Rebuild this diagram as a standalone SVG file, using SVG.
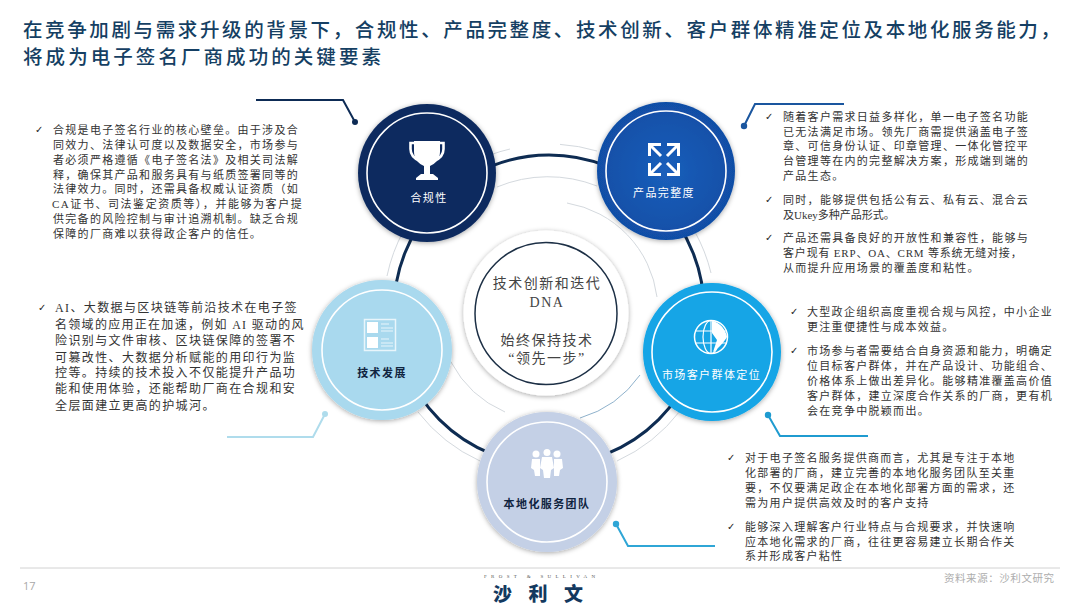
<svg xmlns="http://www.w3.org/2000/svg" width="1080" height="608" viewBox="0 0 1080 608">
<style>
text{font-family:"Liberation Serif","Noto Sans CJK SC",sans-serif}
.title{font-family:"Noto Sans CJK SC",sans-serif;font-size:19.5px;font-weight:500;fill:#153f63}
.b{font-size:11px;letter-spacing:1.3px;fill:#333}
.b2{font-size:12px;letter-spacing:1.4px;fill:#333}
.ck{font-family:"DejaVu Sans",sans-serif;font-size:10px;fill:#222}
.nl{font-size:11px;letter-spacing:1.4px;text-anchor:middle;fill:#fff}
.nd{font-size:11px;letter-spacing:1.4px;text-anchor:middle;fill:#10243f;font-weight:700}
.ct{font-size:14px;letter-spacing:1.5px;text-anchor:middle;fill:#444}
.thin{fill:none;stroke:#d4d9de;stroke-width:1}
.ring{fill:none;stroke:#fff;stroke-width:1.6}
.ico{fill:#fff;stroke:none}
.icl{fill:none;stroke:#fff;stroke-linecap:butt}
.lead{fill:none;stroke-width:2}
</style>
<defs>
<filter id="sh" x="-20%" y="-20%" width="140%" height="140%"><feDropShadow dx="0" dy="1" stdDeviation="2.5" flood-color="#000" flood-opacity=".35"/></filter>
<radialGradient id="gp"><stop offset="0" stop-color="#1b5fbb"/><stop offset="1" stop-color="#114ea6"/></radialGradient>
</defs>
<rect width="1080" height="608" fill="#fff"/>
<g id="title">
<text class="title" x="23" y="37" textLength="1037">在竞争加剧与需求升级的背景下，合规性、产品完整度、技术创新、客户群体精准定位及本地化服务能力，</text>
<text class="title" x="23" y="64" textLength="358">将成为电子签名厂商成功的关键要素</text>
</g>
<g id="connectors">
<circle cx="549" cy="310" r="155" fill="none" stroke="#0e2c52" stroke-width="3"/>
<path class="thin" d="M490,155A166,166 0 0 1 510,149"/>
<path class="thin" d="M560,144.4A166,166 0 0 1 597,151"/>
<path class="thin" d="M695,232A166,166 0 0 1 711,273"/>
<path class="thin" d="M387,276A166,166 0 0 1 404,230"/>
<path class="thin" d="M418,412A166,166 0 0 0 480,461"/>
<path class="thin" d="M617,461A166,166 0 0 0 680,411"/>
<path class="thin" d="M497,187A133,133 0 0 1 597,186"/>
<path class="thin" d="M567,203A109,109 0 0 1 657,297"/>
<path class="thin" d="M451,362A111,111 0 0 0 505,412"/>
<path d="M580,418A112,112 0 0 0 640,375" fill="none" stroke="#8fb2cc" stroke-width="1"/>
<path class="lead" stroke="#0d2b55" d="M256,100H343L355,122"/><circle cx="355" cy="122" r="3" fill="#0d2b55"/>
<path class="lead" stroke="#1a569f" d="M844,104H755L744,126"/><circle cx="744" cy="126" r="3.2" fill="#1a569f"/>
<path class="lead" stroke="#1f9bd0" d="M768,415L780,436H868"/><circle cx="768" cy="415" r="3.2" fill="#1f9bd0"/>
<path class="lead" stroke="#2fa6d6" d="M616,524L628,546H715"/><circle cx="616" cy="524" r="3.2" fill="#2fa6d6"/>
<path class="lead" stroke="#afdcec" d="M325,414L313,437H227"/><circle cx="325" cy="414" r="3" fill="#afdcec"/>
</g>
<g id="node-center">
<circle cx="546" cy="313" r="82.5" fill="#fff" filter="url(#sh)"/>
<circle cx="546" cy="313.5" r="71" fill="#fff" stroke="#1c2f45" stroke-width="1.5"/>
<text class="ct" x="547" y="288">技术创新和迭代</text>
<text class="ct" x="547" y="307">DNA</text>
<text class="ct" x="547" y="345">始终保持技术</text>
<text class="ct" x="547" y="363">“领先一步”</text>
</g>
<g id="node-compliance">
<circle cx="427" cy="173" r="69" fill="#0b2b5f" filter="url(#sh)"/>
<circle class="ring" cx="427" cy="173" r="60"/>
<path class="ico" d="M414,141H440V152C440,159 435,164 430,166V175H424V166C419,164 414,159 414,152Z"/>
<path class="icl" stroke-width="2.6" d="M415,143H410.500V149C410.500,156 415,159 420,161M439,143H443.500V149C443.500,156 439,159 434,161"/>
<path class="ico" d="M421,174H433L438,178V180H416V178Z"/>
<text class="nl" x="429" y="202">合规性</text>
</g>
<g id="node-product">
<circle cx="666" cy="171" r="69" fill="url(#gp)" filter="url(#sh)"/>
<circle class="ring" cx="666" cy="171" r="60"/>
<path class="icl" stroke-width="3" d="M649.500,156V144.500H661M650,145L661,156M678.500,156V144.500H667M678,145L667,156M649.500,163V174.500H661M650,174L661,163M678.500,163V174.500H667M678,174L667,163"/>
<text class="nl" x="664" y="197">产品完整度</text>
</g>
<g id="node-market">
<circle cx="712" cy="352" r="69" fill="#12a5e6" filter="url(#sh)"/>
<circle class="ring" cx="712" cy="352" r="60"/>
<circle class="icl" cx="711" cy="337" r="16.500" stroke-width="1.5"/>
<ellipse class="icl" cx="711" cy="337" rx="8" ry="16.500" stroke-width="1.2"/>
<path class="icl" stroke-width="1.2" d="M695,331H727M695,343H727M711,320V354"/>
<path class="ico" d="M712,321C720,322 726,330 727,337C724,342 718,349 713,352L717,340L712,333Z"/>
<text class="nl" x="711.500" y="379">市场客户群体定位</text>
</g>
<g id="node-tech">
<circle cx="382" cy="350" r="70" fill="#a9d9ee" filter="url(#sh)"/>
<circle class="ring" cx="382" cy="350" r="60"/>
<rect x="364.500" y="319.500" width="31" height="31" fill="none" stroke="#e8f5fb" stroke-width="1.500"/>
<rect class="ico" x="367" y="322" width="11" height="11"/><rect class="ico" x="367" y="337" width="11" height="11"/>
<path d="M381,324H389M381,328H393M381,331H393M381,339H389M381,343H393M381,346H393" stroke="#e8f5fb" stroke-width="1" fill="none"/>
<text class="nd" x="382" y="377">技术发展</text>
</g>
<g id="node-local">
<circle cx="547" cy="482" r="70" fill="#c4d0e6" filter="url(#sh)"/>
<circle class="ring" cx="547" cy="482" r="60"/>
<circle class="ico" cx="536" cy="454" r="3.500"/><circle class="ico" cx="547" cy="452.500" r="3.500"/><circle class="ico" cx="557" cy="454" r="3.500"/>
<path class="ico" d="M532,459H540V476H535L534,470L531,468ZM554,459H562L563,468L560,470L559,476H554Z"/>
<path class="ico" d="M542,457H552L554,468L551,470L550,478H544L543,470L540,468Z"/>
<text class="nd" x="547" y="508">本地化服务团队</text>
</g>
<g id="text-compliance">
<text class="ck" x="35" y="133">✓</text>
<text class="b" x="53" y="134">合规是电子签名行业的核心壁垒。由于涉及合</text>
<text class="b" x="53" y="149">同效力、法律认可度以及数据安全，市场参与</text>
<text class="b" x="53" y="164">者必须严格遵循《电子签名法》及相关司法解</text>
<text class="b" x="53" y="179">释，确保其产品和服务具有与纸质签署同等的</text>
<text class="b" x="53" y="193">法律效力。同时，还需具备权威认证资质（如</text>
<text class="b" x="52" y="208" textLength="251">CA证书、司法鉴定资质等），并能够为客户提</text>
<text class="b" x="53" y="223">供完备的风险控制与审计追溯机制。缺乏合规</text>
<text class="b" x="53" y="238">保障的厂商难以获得政企客户的信任。</text>
</g>
<g id="text-tech">
<text class="ck" x="38" y="311">✓</text>
<text class="b2" x="55" y="312" textLength="243">AI、大数据与区块链等前沿技术在电子签</text>
<text class="b2" x="55" y="329" textLength="250">名领域的应用正在加速，例如 AI 驱动的风</text>
<text class="b2" x="55" y="345">险识别与文件审核、区块链保障的签署不</text>
<text class="b2" x="55" y="362">可篡改性、大数据分析赋能的用印行为监</text>
<text class="b2" x="55" y="377">控等。持续的技术投入不仅能提升产品功</text>
<text class="b2" x="55" y="393">能和使用体验，还能帮助厂商在合规和安</text>
<text class="b2" x="55" y="410">全层面建立更高的护城河。</text>
</g>
<g id="text-product">
<text class="ck" x="765" y="120">✓</text>
<text class="b" x="783" y="121">随着客户需求日益多样化，单一电子签名功能</text>
<text class="b" x="783" y="136">已无法满足市场。领先厂商需提供涵盖电子签</text>
<text class="b" x="783" y="150">章、可信身份认证、印章管理、一体化管控平</text>
<text class="b" x="783" y="165">台管理等在内的完整解决方案，形成端到端的</text>
<text class="b" x="783" y="180">产品生态。</text>
<text class="ck" x="765" y="203">✓</text>
<text class="b" x="783" y="204">同时，能够提供包括公有云、私有云、混合云</text>
<text class="b" x="783" y="219" textLength="113">及Ukey多种产品形式。</text>
<text class="ck" x="765" y="241">✓</text>
<text class="b" x="783" y="242">产品还需具备良好的开放性和兼容性，能够与</text>
<text class="b" x="783" y="257" textLength="240">客户现有 ERP、OA、CRM 等系统无缝对接，</text>
<text class="b" x="783" y="272">从而提升应用场景的覆盖度和粘性。</text>
</g>
<g id="text-market">
<text class="ck" x="790" y="315">✓</text>
<text class="b" x="807" y="316">大型政企组织高度重视合规与风控，中小企业</text>
<text class="b" x="807" y="331">更注重便捷性与成本效益。</text>
<text class="ck" x="790" y="354">✓</text>
<text class="b" x="807" y="355">市场参与者需要结合自身资源和能力，明确定</text>
<text class="b" x="807" y="370">位目标客户群体，并在产品设计、功能组合、</text>
<text class="b" x="807" y="385">价格体系上做出差异化。能够精准覆盖高价值</text>
<text class="b" x="807" y="400">客户群体，建立深度合作关系的厂商，更有机</text>
<text class="b" x="807" y="415">会在竞争中脱颖而出。</text>
</g>
<g id="text-local">
<text class="ck" x="727" y="461">✓</text>
<text class="b" x="745" y="462">对于电子签名服务提供商而言，尤其是专注于本地</text>
<text class="b" x="745" y="477">化部署的厂商，建立完善的本地化服务团队至关重</text>
<text class="b" x="745" y="492">要，不仅要满足政企在本地化部署方面的需求，还</text>
<text class="b" x="745" y="507">需为用户提供高效及时的客户支持</text>
<text class="ck" x="727" y="530">✓</text>
<text class="b" x="745" y="531">能够深入理解客户行业特点与合规要求，并快速响</text>
<text class="b" x="745" y="546">应本地化需求的厂商，往往更容易建立长期合作关</text>
<text class="b" x="745" y="560">系并形成客户粘性</text>
</g>
<g id="footer">
<path d="M20,568H1060" stroke="#d2d2d2" stroke-width="1"/>
<text x="23" y="590" style="font-family:'Open Sans',sans-serif;font-size:11px;fill:#a8a8a8">17</text>
<text x="484" y="578" textLength="111" style="font-size:5px;fill:#555">FROST &amp; SULLIVAN</text>
<text x="493" y="601" textLength="90" style="font-family:'Noto Sans CJK SC',sans-serif;font-size:19px;font-weight:900;fill:#13395f">沙利文</text>
<text x="944" y="582" textLength="110" style="font-size:10.500px;fill:#adadad">资料来源：沙利文研究</text>
</g>
</svg>
